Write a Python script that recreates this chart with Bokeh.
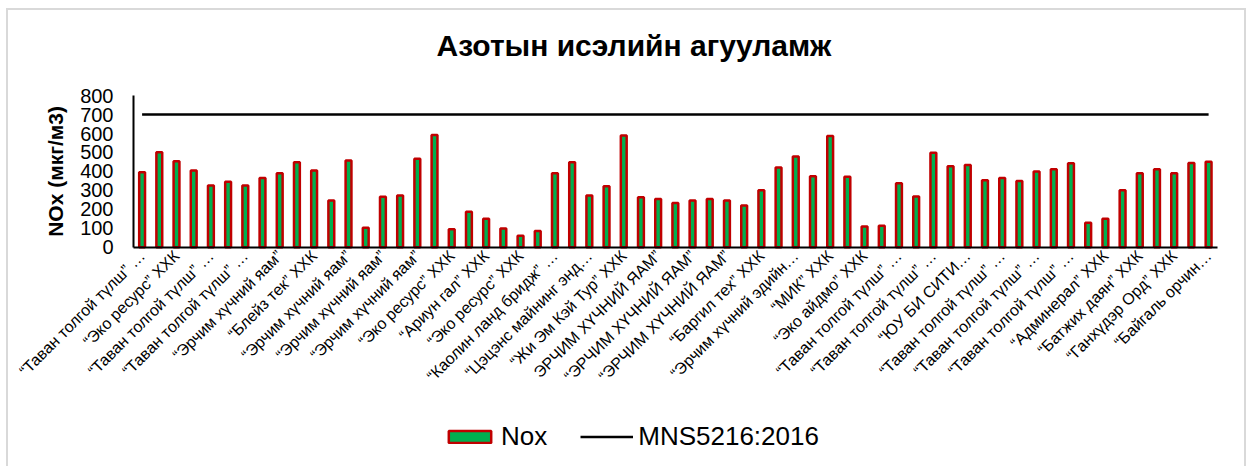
import math
from bokeh.plotting import figure
from bokeh.models import (Range1d, FixedTicker, Legend, LegendItem, ColumnDataSource,
                          Label)
from bokeh.embed import file_html
from bokeh.resources import INLINE

title_text = "Азотын  исэлийн агууламж"
y_label = "NOx (мкг/м3)"
series_name = "Nox"
limit_name = "MNS5216:2016"

# labels shown on every second category (Excel skipped the others)
tick_labels = [
    "“Таван толгой түлш” …", "“Эко ресурс” ХХК", "“Таван толгой түлш” …",
    "“Таван толгой түлш” …", "“Эрчим хүчний яам”", "“Блейз тек” ХХК",
    "“Эрчим хүчний яам”", "“Эрчим хүчний яам”", "“Эрчим хүчний яам”",
    "“Эко ресурс” ХХК", "“Ариун гал” ХХК", "“Эко ресурс” ХХК",
    "“Каолин ланд бридж” …", "“Цэцэнс майнинг энд…", "“Жи Эм Кэй Тур” ХХК",
    "ЭРЧИМ ХҮЧНИЙ ЯАМ”", "“ЭРЧИМ ХҮЧНИЙ ЯАМ”", "“ЭРЧИМ ХҮЧНИЙ ЯАМ”",
    "“Баргил тех” ХХК", "“Эрчим хүчний эдийн…", "“МИК” ХХК",
    "“Эко айдмо” ХХК", "“Таван толгой түлш” …", "“Таван толгой түлш” …",
    "“ЮУ БИ СИТИ…", "“Таван толгой түлш” …", "“Таван толгой түлш” …",
    "“Таван толгой түлш” …", "“Админерал” ХХК", "“Батжих даян” ХХК",
    "“Ганхүдэр Орд” ХХК", "“Байгаль орчин…",
]

nox = [
    395, 501, 453, 405, 325, 346, 325, 365, 390, 448,
    405, 247, 457, 102, 266, 273, 467, 592, 95, 187,
    150, 99, 60, 85, 390, 448, 273, 321, 590, 263,
    254, 233, 247, 254, 247, 220, 301, 420, 478, 375,
    587, 372, 109, 113, 337, 268, 499, 427, 434, 353,
    365, 349, 400, 411, 443, 129, 150, 301, 390, 411,
    390, 444, 451,
]

mns = [700] * len(nox)

y_ticks = [0, 100, 200, 300, 400, 500, 600, 700, 800]

FONT = "Liberation Sans"

# ---- layout in canvas pixels ----
W, H = 1240, 458
TOP = 60                 # top of the drawing frame
AXIS_X = 125.0           # value axis line
END_X = 1208.7           # right end of category axis
Y0, Y800 = 236.7, 85.1   # pixel rows of 0 and 800
LABEL_X = 47.0           # centre of the value-axis title

n = len(nox)
px_cat = (END_X - AXIS_X) / n
px_unit = (Y0 - Y800) / 800.0
x_start = -0.5 - AXIS_X / px_cat
x_end = n - 0.5 + (W - END_X) / px_cat
y_end = 800 + (Y800 - TOP) / px_unit
y_start = -(H - Y0) / px_unit

xs = list(range(n))
src = ColumnDataSource(dict(x=xs, nox=nox, mns=mns))

p = figure(width=W, height=H, output_backend="svg", toolbar_location=None,
           x_range=Range1d(x_start, x_end), y_range=Range1d(y_start, y_end),
           min_border_left=0, min_border_right=0, min_border_top=TOP,
           min_border_bottom=0, title=title_text)
p.styles = {"border-top": "2px solid #d9d9d9", "border-left": "2px solid #d9d9d9",
            "border-right": "2px solid #d9d9d9", "margin": "8px 0 0 6px"}

p.title.align = "left"
p.title.offset = 428
p.title.standoff = 18
p.title.text_font = FONT
p.title.text_font_size = "30px"
p.title.text_font_style = "bold"
p.title.text_color = "#000000"

p.outline_line_color = None
p.xgrid.grid_line_color = None
p.ygrid.grid_line_color = None
p.background_fill_color = "white"
p.border_fill_color = "white"

bars = p.vbar(x="x", top="nox", width=0.34, source=src,
              fill_color="#00B050", line_color="#C00000", line_width=2.5)
lim = p.line(x="x", y="mns", source=src, line_color="#000000", line_width=2.5)

# category axis, fixed at y = 0
xa = p.xaxis[0]
even = list(range(0, n, 2))
xa.fixed_location = 0
xa.bounds = (-0.5, n - 0.5)
xa.ticker = FixedTicker(ticks=even)
xa.major_label_overrides = {i: lab for i, lab in zip(even, tick_labels)}
xa.major_label_orientation = math.pi / 4
xa.major_label_text_font = FONT
xa.major_label_text_font_size = "16px"
xa.major_label_text_color = "#000000"
xa.major_label_standoff = 6
xa.major_tick_line_color = None
xa.major_tick_out = 0
xa.major_tick_in = 0
xa.minor_tick_line_color = None
xa.axis_line_color = "#000000"
xa.axis_line_width = 2

# value axis, fixed at the left edge of the categories
ya = p.yaxis[0]
ya.fixed_location = -0.5
ya.bounds = (0, 800)
ya.ticker = FixedTicker(ticks=y_ticks)
ya.major_label_text_font = FONT
ya.major_label_text_font_size = "20px"
ya.major_label_text_color = "#000000"
ya.major_label_standoff = 20
ya.major_tick_line_color = None
ya.major_tick_out = 0
ya.major_tick_in = 0
ya.minor_tick_line_color = None
ya.axis_line_color = "#000000"
ya.axis_line_width = 2

# value-axis title, centred on the 0..800 span
p.add_layout(Label(x=-0.5 - (AXIS_X - LABEL_X) / px_cat,
                   y=(y_ticks[0] + y_ticks[-1]) / 2, text=y_label,
                   angle=math.pi / 2, text_align="center", text_baseline="middle",
                   text_font=FONT, text_font_size="21px", text_font_style="bold",
                   text_color="#000000"))

legend = Legend(items=[LegendItem(label=series_name, renderers=[bars]),
                       LegendItem(label=limit_name, renderers=[lim])],
                orientation="horizontal", location=(435, 16),
                glyph_width=53, glyph_height=15, label_standoff=5, spacing=33,
                padding=0, margin=0, border_line_color=None,
                background_fill_alpha=0,
                label_text_font=FONT, label_text_font_size="26px",
                label_text_color="#000000")
p.add_layout(legend, "center")

open("out.html", "w").write(file_html(p, INLINE))
